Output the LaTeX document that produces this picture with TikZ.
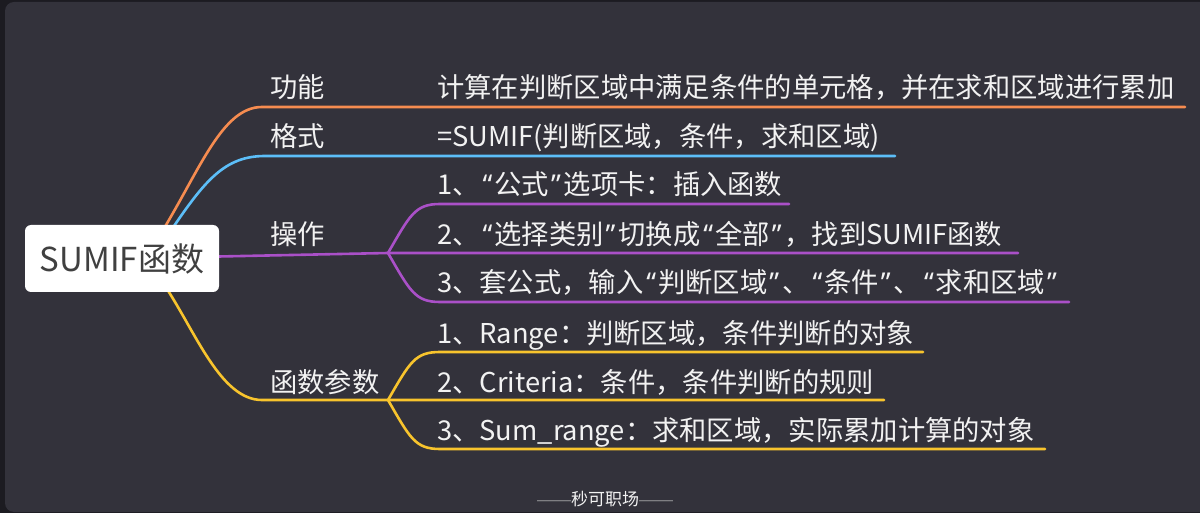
\documentclass[tikz,border=0pt]{standalone}
\usepackage{fontspec}
\setmainfont{Noto Sans CJK SC}
\newfontfamily\quotefont{Noto Sans}
\newfontfamily\dashfont{Liberation Sans}
\newcommand\oqt{{\quotefont\hspace{3pt}“\hspace{2pt}}}
\newcommand\cqt{{\quotefont\hspace{2pt}”\hspace{3pt}}}
\usetikzlibrary{backgrounds}
\definecolor{outerbg}{HTML}{1C1B21}
\definecolor{panelbg}{HTML}{33323B}
\definecolor{txt}{HTML}{F2F2F2}
\definecolor{roottxt}{HTML}{404040}
\definecolor{orangebr}{HTML}{F68C50}
\definecolor{bluebr}{HTML}{5CBEF8}
\definecolor{purplebr}{HTML}{AA50C8}
\definecolor{yellowbr}{HTML}{F8C42D}
\definecolor{footdash}{HTML}{8A8A8E}
\begin{document}
\begin{tikzpicture}[x=1pt,y=-1pt,
    rootbox/.style={fill=white,rounded corners=6pt,minimum width=194pt,minimum height=67pt,
      inner sep=0pt,text=roottxt,font=\fontsize{33}{33}\selectfont},
    lbl/.style={anchor=base west,inner sep=0pt,text=txt,font=\fontsize{27.3}{27.3}\selectfont},
    br/.style={line width=2.6pt,line cap=round}]
  \useasboundingbox (0,0) rectangle (1200,513);
  \clip (0,0) rectangle (1200,513);
  % main topic
  \node[rootbox] (root) at (122,258.5) {SUMIF函数};
  % branch labels
  \draw
    (270,98) node[lbl] (gn){功能}
    (270,147) node[lbl] (gs){格式}
    (270,245) node[lbl] (cz){操作}
    (270,392) node[lbl] (cs){函数参数};
  % sub topics
  \draw
    (437,98) node[lbl] (gn1){计算在判断区域中满足条件的单元格，并在求和区域进行累加}
    (437,147) node[lbl] (gs1){=SUMIF(判断区域，条件，求和区域)}
    (437,195) node[lbl] (cz1){1、\oqt 公式\cqt 选项卡：插入函数}
    (437,245) node[lbl] (cz2){2、\oqt 选择类别\cqt 切换成\oqt 全部\cqt ，找到SUMIF函数}
    (437,293) node[lbl] (cz3){3、套公式，输入\oqt 判断区域\cqt 、\oqt 条件\cqt 、\oqt 求和区域\cqt}
    (437,343) node[lbl] (cs1){1、Range：判断区域，条件判断的对象}
    (437,392) node[lbl] (cs2){2、Criteria：条件，条件判断的规则}
    (437,440) node[lbl] (cs3){3、Sum\_range：求和区域，实际累加计算的对象};
  \node[text=txt,font=\fontsize{17}{17}\selectfont,inner sep=0pt] (foot) at (605,499)
    {\textcolor{footdash}{\dashfont ——}秒可职场\textcolor{footdash}{\dashfont ——}};
  % fork points and line ends
  \coordinate (czf) at (388,253);
  \coordinate (csf) at (388,400);
  \coordinate (gnE) at (1185,107);
  \coordinate (gsE) at (895,156);
  \coordinate (cz1E) at (789,204);
  \coordinate (cz2E) at (1018,253);
  \coordinate (cz3E) at (1069,302);
  \coordinate (cs1E) at (923,352);
  \coordinate (cs2E) at (884,400);
  \coordinate (cs3E) at (1045,449);
  \begin{scope}[on background layer]
    \fill[outerbg] (0,0) rectangle (1200,513);
    \fill[panelbg,rounded corners=9pt] (5,2) rectangle (1230,512);
    \draw[br,orangebr] (root.center) -- (160,235) .. controls (200,170) and (222,107) .. (262,107) -- (gnE);
    \draw[br,bluebr] (root.center) -- (170,232) .. controls (205,180) and (225,156) .. (265,156) -- (gsE);
    \draw[br,purplebr] (root.center) -- (czf) -- (cz2E);
    \draw[br,purplebr] (czf) .. controls (410,215) and (415,204) .. (440,204) -- (cz1E);
    \draw[br,purplebr] (czf) .. controls (410,291) and (415,302) .. (440,302) -- (cz3E);
    \draw[br,yellowbr] (root.center) -- (163,283) .. controls (195,330) and (220,400) .. (262,400) -- (csf) -- (cs2E);
    \draw[br,yellowbr] (csf) .. controls (410,362) and (415,352) .. (440,352) -- (cs1E);
    \draw[br,yellowbr] (csf) .. controls (410,438) and (415,449) .. (440,449) -- (cs3E);
  \end{scope}
\end{tikzpicture}
\end{document}
